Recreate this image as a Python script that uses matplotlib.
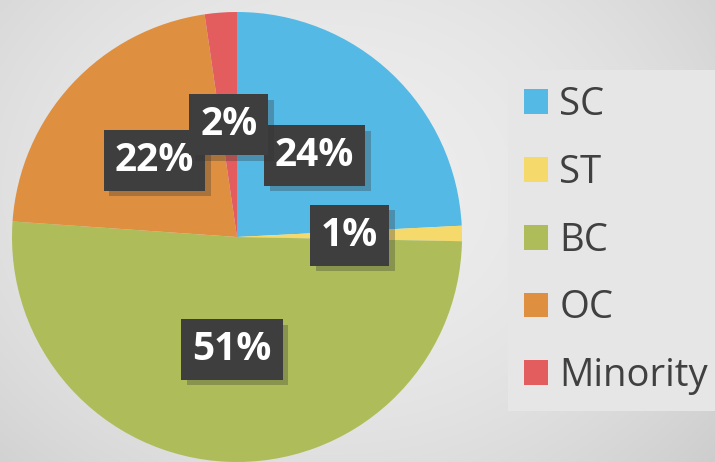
import numpy as np
import matplotlib
matplotlib.use("Agg")
import matplotlib.pyplot as plt
import matplotlib.patheffects as pe

categories = ["SC", "ST", "BC", "OC", "Minority"]
shares = [24.2, 1.1, 50.8, 21.6, 2.3]
pct_labels = ["24%", "1%", "51%", "22%", "2%"]
colors = ["#54B9E4", "#F5D96B", "#AEBD5A", "#DF8F40", "#E35D5F"]

plt.rcParams["font.family"] = ["Open Sans", "DejaVu Sans"]

W, H = 715, 462
fig = plt.figure(figsize=(W / 100, H / 100), dpi=100)

# radial light grey background
bg = fig.add_axes([0, 0, 1, 1])
yy, xx = np.mgrid[0:H, 0:W]
r = np.sqrt(((xx - 330) / 520.0) ** 2 + ((yy - 190) / 420.0) ** 2)
grey = 0.93 - 0.13 * np.clip(r, 0, 1.2) ** 2
bg.imshow(np.dstack([grey, grey, grey]), aspect="auto")
bg.axis("off")

# pie centered at (237, 237) px, radius 225 px
cx, cy, rad = 237, 237, 225
ax = fig.add_axes([(cx - rad) / W, (H - cy - rad) / H, 2 * rad / W, 2 * rad / H])

it = iter(pct_labels)
wedges, texts, autotexts = ax.pie(
    shares, colors=colors, startangle=90, counterclock=False, radius=1,
    autopct=lambda p: next(it), pctdistance=0.5,
    wedgeprops=dict(linewidth=0),
    textprops=dict(color="white", fontsize=28, fontweight="bold"),
)
ax.set_xlim(-1, 1)
ax.set_ylim(-1, 1)
ax.axis("off")
for t in autotexts:
    t.set_bbox(dict(facecolor="#3e3e3e", edgecolor="none", linewidth=0,
                    boxstyle="square,pad=0.28"))
    t.get_bbox_patch().set_path_effects(
        [pe.SimplePatchShadow(offset=(4, -4), shadow_rgbFace="#333333", alpha=0.3), pe.Normal()])

leg = fig.legend(wedges, categories, loc="upper right",
                 bbox_to_anchor=(1.0 + 9 / W, 1 - 70 / H),
                 fontsize=27.5, frameon=True, fancybox=False,
                 handlelength=0.62, handleheight=0.62, handletextpad=0.3,
                 labelspacing=0.78, borderpad=0.42, borderaxespad=0)
leg.get_frame().set_facecolor("#e6e6e6")
leg.get_frame().set_edgecolor("none")
leg.get_frame().set_alpha(1)
for t in leg.get_texts():
    t.set_color("#404040")

fig.savefig("out.png", dpi=100)
